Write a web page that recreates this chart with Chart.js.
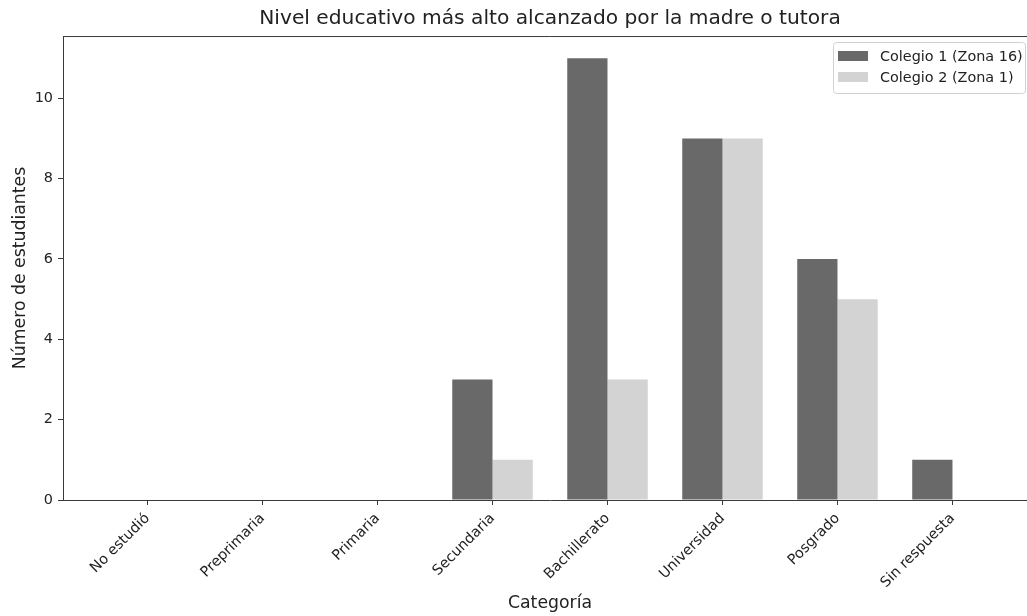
<!DOCTYPE html>
<html>
<head>
<meta charset="utf-8">
<script src="https://cdn.jsdelivr.net/npm/chart.js@4"></script>
<style>
  html, body { margin: 0; padding: 0; background: #fff; overflow: hidden; }
  canvas { display: block; }
</style>
</head>
<body>
<canvas id="nivelChart" width="1100" height="616" style="width:1100px;height:616px"></canvas>
<script>
// datos
var categorias = ['No estudió', 'Preprimaria', 'Primaria', 'Secundaria', 'Bachillerato', 'Universidad', 'Posgrado', 'Sin respuesta']
var colegio1 = [0, 0, 0, 3, 11, 9, 6, 1]
var colegio2 = [0, 0, 0, 1, 3, 9, 5, 0]
var ticksY = [0, 2, 4, 6, 8, 10]

var FONT = "'DejaVu Sans', sans-serif"
var EJE = '#3a3a3a'

function puntos(valores) {
    return valores.map(function (v, i) { return {x: i, y: v} })
}

// solo lineas de arriba y derecha, las otras son los bordes de los ejes
var marco = {
    id: 'marco',
    afterDatasetsDraw: function (chart) {
        var a = chart.chartArea, c = chart.ctx
        c.save()
        c.strokeStyle = EJE
        c.lineWidth = 1
        c.beginPath()
        c.moveTo(a.left, a.top + 0.5)
        c.lineTo(a.right - 0.5, a.top + 0.5)
        c.lineTo(a.right - 0.5, a.bottom)
        c.stroke()
        c.restore()
    }
}

// leyenda en la esquina superior derecha
var leyenda = {
    id: 'leyenda',
    afterDraw: function (chart) {
        var c = chart.ctx
        var x = 833, y = 42, w = 192, h = 51
        c.save()
        c.fillStyle = 'rgba(255,255,255,0.8)'
        c.strokeStyle = '#d0d0d0'
        c.lineWidth = 1
        c.beginPath()
        c.roundRect(x + 0.5, y + 0.5, w, h, 3)
        c.fill()
        c.stroke()
        c.font = '14.4px ' + FONT
        c.textBaseline = 'middle'
        chart.data.datasets.forEach(function (ds, i) {
            var cy = y + 14 + i * 21
            c.fillStyle = ds.backgroundColor
            c.fillRect(x + 5, cy - 5, 30, 10)
            c.fillStyle = '#222'
            c.fillText(ds.label, x + 47, cy + 1)
        })
        c.restore()
    }
}

var ctx = document.getElementById('nivelChart').getContext('2d')
var chart = new Chart(ctx, {
    type: 'bar',
    data: {
        datasets: [{
            label: 'Colegio 1 (Zona 16)',
            data: puntos(colegio1),
            backgroundColor: '#696969',
            borderWidth: 0
        }, {
            label: 'Colegio 2 (Zona 1)',
            data: puntos(colegio2),
            backgroundColor: '#d3d3d3',
            borderWidth: 0
        }]
    },
    options: {
        responsive: false,
        animation: false,
        categoryPercentage: 0.7,
        barPercentage: 1.0,
        layout: {padding: {left: 0, right: 63, top: 0, bottom: 0}},
        plugins: {
            legend: {display: false},
            tooltip: {enabled: false},
            title: {
                display: true,
                fullSize: false,
                text: 'Nivel educativo más alto alcanzado por la madre o tutora',
                color: '#222',
                font: {family: FONT, size: 20.2, weight: 'normal', lineHeight: 1.2},
                padding: {top: 7, bottom: 4.8}
            }
        },
        scales: {
            x: {
                type: 'linear',
                offset: false,
                min: -0.735,
                max: 7.735,
                afterBuildTicks: function (s) {
                    s.ticks = categorias.map(function (c, i) { return {value: i} })
                },
                afterFit: function (s) { s.height = 116 },
                ticks: {
                    autoSkip: false,
                    minRotation: 45,
                    maxRotation: 45,
                    color: '#222',
                    font: {family: FONT, size: 14.4},
                    padding: 5,
                    callback: function (v) { return categorias[v] }
                },
                grid: {display: true, drawOnChartArea: false, drawTicks: true, tickLength: 5, color: EJE, offset: false},
                border: {display: true, color: EJE, width: 1},
                title: {
                    display: true,
                    text: 'Categoría',
                    color: '#222',
                    font: {family: FONT, size: 17.3},
                    padding: {top: 0, bottom: 2}
                }
            },
            y: {
                min: 0,
                max: 11.55,
                afterBuildTicks: function (s) {
                    s.ticks = ticksY.map(function (v) { return {value: v} })
                },
                afterFit: function (s) { s.width = 63 },
                ticks: {
                    color: '#222',
                    font: {family: FONT, size: 14.4},
                    padding: 5
                },
                grid: {display: true, drawOnChartArea: false, drawTicks: true, tickLength: 5, color: EJE},
                border: {display: true, color: EJE, width: 1},
                title: {
                    display: true,
                    text: 'Número de estudiantes',
                    color: '#222',
                    font: {family: FONT, size: 17.3},
                    padding: {top: 10, bottom: 6}
                }
            }
        }
    },
    plugins: [marco, leyenda]
});
</script>
</body>
</html>
